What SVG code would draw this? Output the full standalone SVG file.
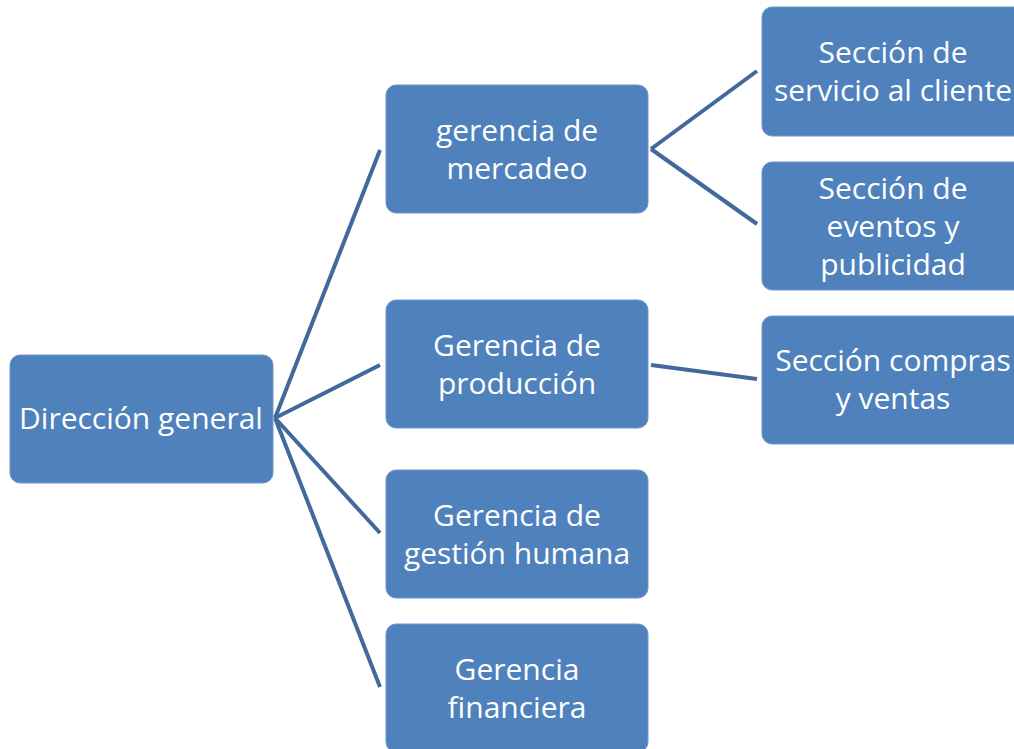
<svg xmlns="http://www.w3.org/2000/svg" width="1014" height="749" viewBox="0 0 1014 749">
<style>
.box{fill:#4f81bd;stroke:#6f97c8;stroke-width:1}
.t{font-family:"Open Sans",Lato,"Liberation Sans",sans-serif;font-size:30px;fill:#ffffff;text-anchor:middle;dominant-baseline:central}
.c{stroke:#41699c;stroke-width:4;fill:none}
</style>
<rect width="1014" height="749" fill="#ffffff"/>
<g id="connectors">
<line class="c" x1="275" y1="418" x2="380" y2="150"/>
<line class="c" x1="275" y1="418" x2="380" y2="365"/>
<line class="c" x1="275" y1="418" x2="380" y2="533"/>
<line class="c" x1="275" y1="418" x2="380" y2="687"/>
<line class="c" x1="651" y1="149" x2="757" y2="71"/>
<line class="c" x1="651" y1="149" x2="757" y2="224"/>
<line class="c" x1="651" y1="365" x2="757" y2="379"/>
</g>
<g id="n-direccion"><rect class="box" x="10" y="355" width="263" height="128" rx="10"/><text class="t" x="141" y="417">Dirección general</text></g>
<g id="n-mercadeo"><rect class="box" x="386" y="85" width="262" height="128" rx="10"/><text class="t" x="517" y="129">gerencia de</text><text class="t" x="517" y="167">mercadeo</text></g>
<g id="n-produccion"><rect class="box" x="386" y="300" width="262" height="128" rx="10"/><text class="t" x="517" y="344">Gerencia de</text><text class="t" x="517" y="382">producción</text></g>
<g id="n-humana"><rect class="box" x="386" y="470" width="262" height="128" rx="10"/><text class="t" x="517" y="514">Gerencia de</text><text class="t" x="517" y="552">gestión humana</text></g>
<g id="n-financiera"><rect class="box" x="386" y="624" width="262" height="128" rx="10"/><text class="t" x="517" y="668">Gerencia</text><text class="t" x="517" y="706">financiera</text></g>
<g id="n-servicio"><rect class="box" x="762" y="7" width="262" height="129" rx="10"/><text class="t" x="893" y="51">Sección de</text><text class="t" x="893" y="89">servicio al cliente</text></g>
<g id="n-eventos"><rect class="box" x="762" y="162" width="262" height="128" rx="10"/><text class="t" x="893" y="187">Sección de</text><text class="t" x="893" y="225">eventos y</text><text class="t" x="893" y="263">publicidad</text></g>
<g id="n-compras"><rect class="box" x="762" y="316" width="262" height="128" rx="10"/><text class="t" x="893" y="359">Sección compras</text><text class="t" x="893" y="397">y ventas</text></g>
</svg>
